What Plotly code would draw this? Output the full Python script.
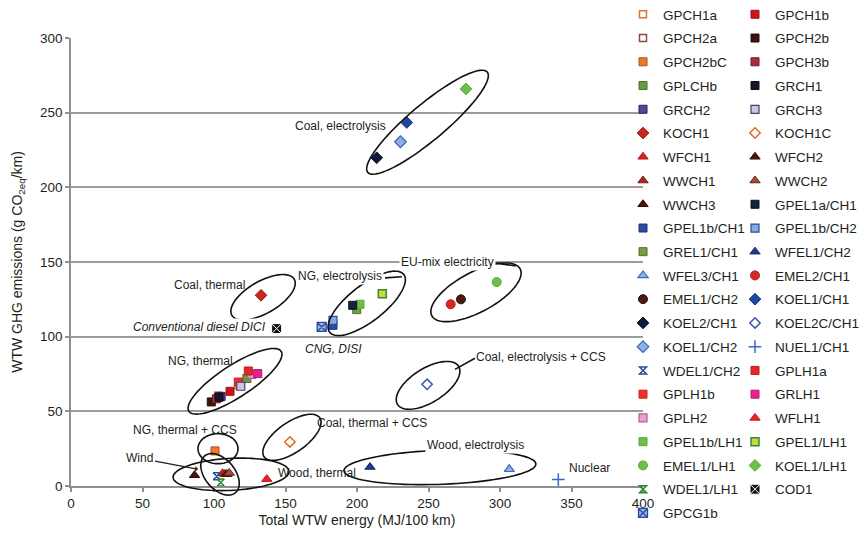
import math
import plotly.graph_objects as go

# ---------------- data ----------------
# legend column 1 (22 entries) followed by legend column 2 (21 entries)
names = [
    "GPCH1a", "GPCH2a", "GPCH2bC", "GPLCHb", "GRCH2", "KOCH1", "WFCH1", "WWCH1",
    "WWCH3", "GPEL1b/CH1", "GREL1/CH1", "WFEL3/CH1", "EMEL1/CH2", "KOEL2/CH1",
    "KOEL1/CH2", "WDEL1/CH2", "GPLH1b", "GPLH2", "GPEL1b/LH1", "EMEL1/LH1",
    "WDEL1/LH1", "GPCG1b",
    "GPCH1b", "GPCH2b", "GPCH3b", "GRCH1", "GRCH3", "KOCH1C", "WFCH2", "WWCH2",
    "GPEL1a/CH1", "GPEL1b/CH2", "WFEL1/CH2", "EMEL2/CH1", "KOEL1/CH1",
    "KOEL2C/CH1", "NUEL1/CH1", "GPLH1a", "GRLH1", "WFLH1", "GPEL1/LH1",
    "KOEL1/LH1", "COD1",
]
energy = [  # Total WTW energy (MJ/100 km)
    117.0, 103.0, 100.7, 123.0, 105.0, 132.9, 106.0, 107.5,
    86.4, 183.2, 199.8, 306.5, 272.7, 213.8,
    230.4, 101.9, 117.0, 126.4, 202.1, 297.7,
    104.7, 175.3,
    111.2, 98.1, 101.7, 103.5, 118.7, 153.1, 109.0, 110.7,
    197.0, 183.2, 209.1, 265.5, 234.8,
    249.0, 340.8, 124.0, 130.6, 136.9, 217.7,
    276.2, 143.8,
]
ghg = [  # WTW GHG emissions (g CO2eq/km)
    67.5, 60.5, 23.5, 72.0, 60.0, 127.7, 8.5, 8.0,
    7.2, 107.6, 118.1, 11.2, 125.0, 219.8,
    230.5, 6.5, 69.6, 74.8, 121.7, 136.6,
    2.3, 106.5,
    63.4, 56.3, 58.4, 59.4, 66.8, 29.5, 8.0, 8.7,
    121.0, 110.9, 12.7, 121.7, 243.4,
    68.1, 4.3, 77.0, 75.3, 4.6, 128.8,
    265.9, 105.4,
]

x_ticks = [0, 50, 100, 150, 200, 250, 300, 350, 400]
y_ticks = [0, 50, 100, 150, 200, 250, 300]

# ---------------- styles ----------------
STYLE = {
    "GPCH1a": ("square", "white", "#e2702e", 1.5, 7),
    "GPCH1b": ("square", "#c8161d", "#a01218", 1, 8),
    "GPCH2a": ("square", "white", "#8a4a3c", 1.5, 7),
    "GPCH2b": ("square", "#3c1510", "#2a0e0a", 1, 8),
    "GPCH2bC": ("square", "#f07a2c", "#a8501e", 1, 8),
    "GPCH3b": ("square", "#a8303a", "#6e1a22", 1, 8),
    "GPLCHb": ("square", "#6a9c3c", "#44702a", 1, 8),
    "GRCH1": ("square", "#16162a", "#0a0a18", 1, 8),
    "GRCH2": ("square", "#5c4494", "#2c2060", 1, 8),
    "GRCH3": ("square", "#d2c2e2", "#4a3a70", 1.2, 8),
    "KOCH1": ("diamond", "#c4281e", "#a01c14", 1, 9),
    "KOCH1C": ("diamond", "white", "#e06a28", 1.5, 8),
    "WFCH1": ("triangle-up", "#d4261c", "#b01c14", 1, 9),
    "WFCH2": ("triangle-up", "#4a1a10", "#300e08", 1, 9),
    "WWCH1": ("triangle-up", "#a82a20", "#7a1a12", 1, 9),
    "WWCH2": ("triangle-up", "#a84a36", "#6a2418", 1, 9),
    "WWCH3": ("triangle-up", "#4a1410", "#2a0806", 1, 9),
    "GPEL1a/CH1": ("square", "#18213e", "#0c1428", 1, 8),
    "GPEL1b/CH1": ("square", "#2c4ca4", "#1c347a", 1, 8),
    "GPEL1b/CH2": ("square", "#86a8dc", "#2c4ca4", 1.2, 8),
    "GREL1/CH1": ("square", "#76a040", "#4a7028", 1, 8),
    "WFEL1/CH2": ("triangle-up", "#1e3c8e", "#142a6a", 1, 9),
    "WFEL3/CH1": ("triangle-up", "#8eb2e6", "#3a6ac0", 1.2, 9),
    "EMEL2/CH1": ("circle", "#d42a20", "#b01c14", 1, 9),
    "EMEL1/CH2": ("circle", "#4a1a10", "#300e08", 1, 9),
    "KOEL1/CH1": ("diamond", "#2046a2", "#16347c", 1, 9),
    "KOEL2/CH1": ("diamond", "#0e1a3a", "#080e22", 1, 9),
    "KOEL2C/CH1": ("diamond", "white", "#3a5aa4", 1.5, 8),
    "KOEL1/CH2": ("diamond", "#8cb0e4", "#3a64b4", 1.2, 9),
    "NUEL1/CH1": ("cross-thin-open", "#3a6ac8", None, 1.5, 9),
    "WDEL1/CH2": ("hourglass-open", "#2c4c9c", None, 1.5, 7),
    "GPLH1a": ("square", "#e42628", "#c01a1c", 1, 8),
    "GPLH1b": ("square", "#ec3028", "#c82020", 1, 8),
    "GRLH1": ("square", "#e4238c", "#b81870", 1, 8),
    "GPLH2": ("square", "#e6a2cc", "#b45a98", 1.2, 8),
    "WFLH1": ("triangle-up", "#e8222a", "#c8141c", 1, 9),
    "GPEL1b/LH1": ("square", "#6cc04a", "#58a83a", 1, 8),
    "GPEL1/LH1": ("square", "#c6d84a", "#3a8a2c", 1.5, 8),
    "EMEL1/LH1": ("circle", "#6cc04a", "#58a83a", 1, 9),
    "KOEL1/LH1": ("diamond", "#6cc04a", "#58a83a", 1, 9),
    "WDEL1/LH1": ("hourglass-open", "#2a8a2a", None, 1.5, 7),
    "COD1": ("square-x", "#111111", "white", 1, 10),
    "GPCG1b": ("square-x", "#9ab4e0", "#2a4aa4", 1.3, 9),
}

TXT = "#231f20"
FONT = "Liberation Sans, Arial, Helvetica, sans-serif"
# the page body adds an 8px margin, so the figure is sized to fit inside the window
W, H = 852, 520
ML, MR, MT, MB = 63, 217, 30, 42
PW, PH = W - ML - MR, H - MT - MB
XMAX, YMAX = 400, 300
SX, SY = PW / XMAX, PH / YMAX


def legend_for(i):
    if i < 10:
        return "legend"
    if i < 22:
        return "legend3"
    if i < 32:
        return "legend2"
    return "legend4"


fig = go.Figure()
for i, (n, xv, yv) in enumerate(zip(names, energy, ghg)):
    sym, fill, line, lw, size = STYLE[n]
    marker = dict(symbol=sym, color=fill, size=size)
    if line is None:
        marker["line"] = dict(width=lw, color=fill)
    else:
        marker["line"] = dict(width=lw, color=line)
    fig.add_trace(go.Scatter(
        x=[xv], y=[yv], mode="markers", name=n, marker=marker,
        legend=legend_for(i), legendgroup=n, cliponaxis=False,
        hovertemplate=n + ": %{x}, %{y}<extra></extra>",
    ))

# ---------------- cluster ellipses (data centre, semi-axes in px, angle) -------
ellipses = [
    (249.3, 243.6, 78, 18, 40),   # Coal, electrolysis
    (134.3, 126.4, 36, 16, 30),   # Coal, thermal
    (114.7, 70.1, 55, 16, 33),    # NG, thermal
    (206.8, 122.3, 47, 18, 38),   # NG, electrolysis
    (283.2, 129.7, 50, 20, 28),   # EU-mix electricity
    (249.7, 67.4, 36, 17, 32),    # Coal, electrolysis + CCS
    (154.5, 32.6, 34, 15, 35),    # Coal, thermal + CCS
    (102.8, 25.0, 20, 15, 0),     # NG, thermal + CCS
    (111.9, 7.8, 58, 16, 3),      # Wood, thermal
    (104.2, 7.8, 24, 15, -50),    # Wind
    (258.0, 12.5, 96, 17, 2),     # Wood, electrolysis
]


def ellipse_path(cx, cy, a, b, ang, n=90):
    t = math.radians(ang)
    pts = []
    for k in range(n):
        th = 2 * math.pi * k / n
        dx = a * math.cos(th) * math.cos(t) - b * math.sin(th) * math.sin(t)
        dy = a * math.cos(th) * math.sin(t) + b * math.sin(th) * math.cos(t)
        pts.append(((cx + dx / SX) / XMAX, (cy + dy / SY) / YMAX))
    return "M " + " L ".join(f"{px:.4f},{py:.4f}" for px, py in pts) + " Z"


shapes = []
for e in ellipses:
    shapes.append(dict(type="path", xref="paper", yref="paper", path=ellipse_path(*e),
                       line=dict(color="#111111", width=1.6), layer="above"))

leaders = [
    ((268.5, 78.1), (282.5, 85.5)),   # Coal, electrolysis + CCS
    ((219.6, 139.4), (231.5, 140.1)), # NG, electrolysis
    ((296.0, 149.4), (311.0, 147.4)), # EU-mix
]
for (x0, y0), (x1, y1) in leaders:
    shapes.append(dict(type="line", xref="paper", yref="paper",
                       x0=x0 / XMAX, y0=y0 / YMAX, x1=x1 / XMAX, y1=y1 / YMAX,
                       line=dict(color="#111111", width=1.6), layer="above"))

# ---------------- labels ----------------
labels = [
    ("Coal, electrolysis", 188.8, 240.9, False, None, "center"),
    ("Coal, thermal", 96.5, 134.4, False, None, "center"),
    ("NG, electrolysis", 188.0, 140.4, False, "white", "center"),
    ("EU-mix electricity", 263.6, 149.8, False, "white", "center"),
    ("Conventional diesel DICI", 137.8, 106.3, True, "white", "right"),
    ("CNG, DISI", 183.9, 91.6, True, None, "center"),
    ("NG, thermal", 90.9, 83.5, False, None, "center"),
    ("Coal, electrolysis + CCS", 328.7, 86.2, False, None, "center"),
    ("NG, thermal + CCS", 79.4, 37.3, False, None, "center"),
    ("Coal, thermal + CCS", 210.5, 42.0, False, None, "center"),
    ("Wood, electrolysis", 283.2, 27.3, False, "white", "center"),
    ("Wood, thermal", 171.7, 8.5, False, None, "center"),
    ("Nuclear", 362.9, 11.9, False, None, "center"),
]
annotations = []
for text, ax_, ay_, ital, bg, anchor in labels:
    annotations.append(dict(
        text=f"<i>{text}</i>" if ital else text, x=ax_, y=ay_, xref="x", yref="y",
        showarrow=False, xanchor=anchor, yanchor="middle",
        font=dict(size=12, color=TXT, family=FONT),
        bgcolor=bg if bg else "rgba(0,0,0,0)", borderpad=1,
    ))
annotations.append(dict(
    text="Wind", x=88.8, y=11.2, xref="x", yref="y", showarrow=True,
    ax=-58, ay=-11, arrowhead=1, arrowsize=0.8, arrowwidth=1.2,
    arrowcolor="#231f20", standoff=0, font=dict(size=12, color=TXT, family=FONT),
))

legend_common = dict(
    xanchor="left", yanchor="top", orientation="v", bgcolor="rgba(0,0,0,0)",
    font=dict(size=13.5, color=TXT, family=FONT), tracegroupgap=3.2,
    itemwidth=30, borderwidth=0,
)
LX1, LX2 = 552 / PW, 664 / PW
LYT = 1 + 39.0 / PH
LYB = 1 - 198.4 / PH

fig.update_layout(
    width=W, height=H,
    margin=dict(l=ML, r=MR, t=MT, b=MB, autoexpand=False),
    paper_bgcolor="white", plot_bgcolor="white",
    font=dict(family=FONT, color=TXT),
    showlegend=True,
    legend=dict(x=LX1, y=LYT, **legend_common),
    legend2=dict(x=LX2, y=LYT, **legend_common),
    legend3=dict(x=LX1, y=LYB, **legend_common),
    legend4=dict(x=LX2, y=LYB, **legend_common),
    xaxis=dict(
        range=[0, XMAX], tickvals=x_ticks, showgrid=False, zeroline=False,
        showline=True, linecolor="#8f8f8f", linewidth=1.5,
        ticks="outside", ticklen=4, tickcolor="#8f8f8f", tickwidth=1.5,
        tickfont=dict(size=13.5, color=TXT),
        title=dict(text="Total WTW energy (MJ/100 km)", font=dict(size=14, color=TXT), standoff=8),
    ),
    yaxis=dict(
        range=[0, YMAX], tickvals=y_ticks, showgrid=True, gridcolor="#9c9c9c", gridwidth=1.5,
        zeroline=False, showline=True, linecolor="#8f8f8f", linewidth=1.5,
        ticks="outside", ticklen=4, tickcolor="#8f8f8f", tickwidth=1.5,
        tickfont=dict(size=13.5, color=TXT),
        title=dict(text="WTW GHG emissions (g CO<sub>2eq</sub>/km)", font=dict(size=14, color=TXT), standoff=14),
    ),
    shapes=shapes,
    annotations=annotations,
)

fig.write_html("out.html")
